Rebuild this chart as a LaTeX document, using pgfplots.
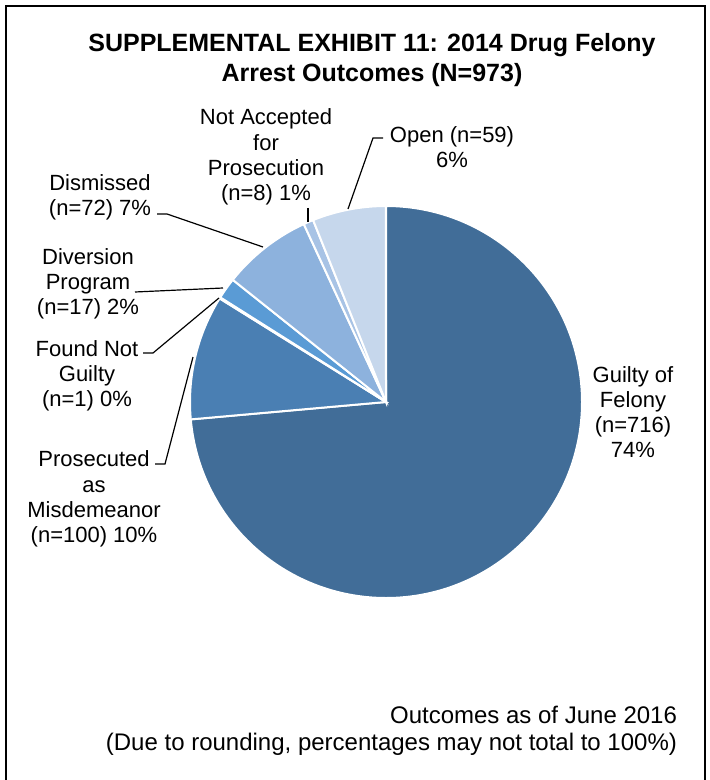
\documentclass[border=0pt]{standalone}
\usepackage{pgfplots}
\pgfplotsset{compat=1.18}
\usepackage{pgfplotstable}
\usepackage{fontspec}
\setmainfont{Liberation Sans}

\definecolor{cGuilty}{HTML}{416D98}
\definecolor{cMisd}{HTML}{4A7FB3}
\definecolor{cFNG}{HTML}{3E6B9C}
\definecolor{cDiv}{HTML}{5A9BD5}
\definecolor{cDism}{HTML}{8DB2DD}
\definecolor{cNA}{HTML}{A8C3E5}
\definecolor{cOpen}{HTML}{C6D7EC}

% outcome counts, clockwise from 12 o'clock
\pgfplotstableread{
n   color
716 cGuilty
100 cMisd
1   cFNG
17  cDiv
72  cDism
8   cNA
59  cOpen
}\pietable

\begin{document}
\begin{tikzpicture}
\begin{scope}[x=0.5pt,y=-0.5pt]
  \useasboundingbox (0,0) rectangle (710,780);
  \draw[line width=1pt] (6,780) -- (6,6) -- (705,6) -- (705,780);
\end{scope}

\begin{axis}[
    at={(193pt,-201pt)}, anchor=center,
    scale only axis,
    width=196pt, height=196pt,
    xmin=-1, xmax=1, ymin=-1, ymax=1,
    hide axis,
    clip=false,
]
\pgfplotstablegetrowsof{\pietable}
\pgfmathtruncatemacro\lastrow{\pgfplotsretval-1}
\xdef\total{0}
\pgfplotsforeachungrouped \i in {0,...,\lastrow}{%
  \pgfplotstablegetelem{\i}{n}\of\pietable
  \pgfmathsetmacro\tmp{\total+\pgfplotsretval}
  \xdef\total{\tmp}
}
\xdef\angstart{90}
\pgfplotsforeachungrouped \i in {0,...,\lastrow}{%
  \pgfplotstablegetelem{\i}{n}\of\pietable \let\cnt\pgfplotsretval
  \pgfplotstablegetelem{\i}{color}\of\pietable \let\col\pgfplotsretval
  \pgfmathsetmacro\angend{\angstart-\cnt/\total*360}
  \edef\temp{\noexpand\fill[\col,draw=white,line width=1pt]
    (axis cs:0,0) -- (axis cs:{cos(\angstart)},{sin(\angstart)})
    arc[start angle=\angstart,end angle=\angend,radius=98pt] -- cycle;}
  \temp
  \xdef\angstart{\angend}
}
\end{axis}

\begin{scope}[x=0.5pt,y=-0.5pt]
  % title
  \node[font=\bfseries\fontsize{12.5}{15}\selectfont, align=center] at (372,60)
    {SUPPLEMENTAL EXHIBIT 11: 2014 Drug Felony\\Arrest Outcomes (N=973)};
  % footnote
  \node[font=\fontsize{12}{13.5}\selectfont, align=right, anchor=east] at (684,731)
    {Outcomes as of June 2016\\(Due to rounding, percentages may not total to 100\%)};

  \begin{scope}[font=\fontsize{11}{12.6}\selectfont, align=center]
    \node at (633,412) {Guilty of\\Felony\\(n=716)\\74\%};
    \node at (452,147) {Open (n=59)\\6\%};
    \node at (266,157) {Not Accepted\\for\\Prosecution\\(n=8) 1\%};
    \node at (100,197) {Dismissed\\(n=72) 7\%};
    \node at (88,284) {Diversion\\Program\\(n=17) 2\%};
    \node at (87,376) {Found Not\\Guilty\\(n=1) 0\%};
    \node at (94,499) {Prosecuted\\as\\Misdemeanor\\(n=100) 10\%};
  \end{scope}

  % leader lines
  \begin{scope}[line width=0.6pt]
    \draw (348,209) -- (373,138) -- (383,138);
    \draw (308,208) -- (308,222);
    \draw (157,214) -- (167,214) -- (263,247);
    \draw (135,292) -- (223,288);
    \draw (143,353) -- (153,353) -- (219,298);
    \draw (155,464) -- (165,464) -- (193,357);
  \end{scope}
\end{scope}
\end{tikzpicture}
\end{document}
